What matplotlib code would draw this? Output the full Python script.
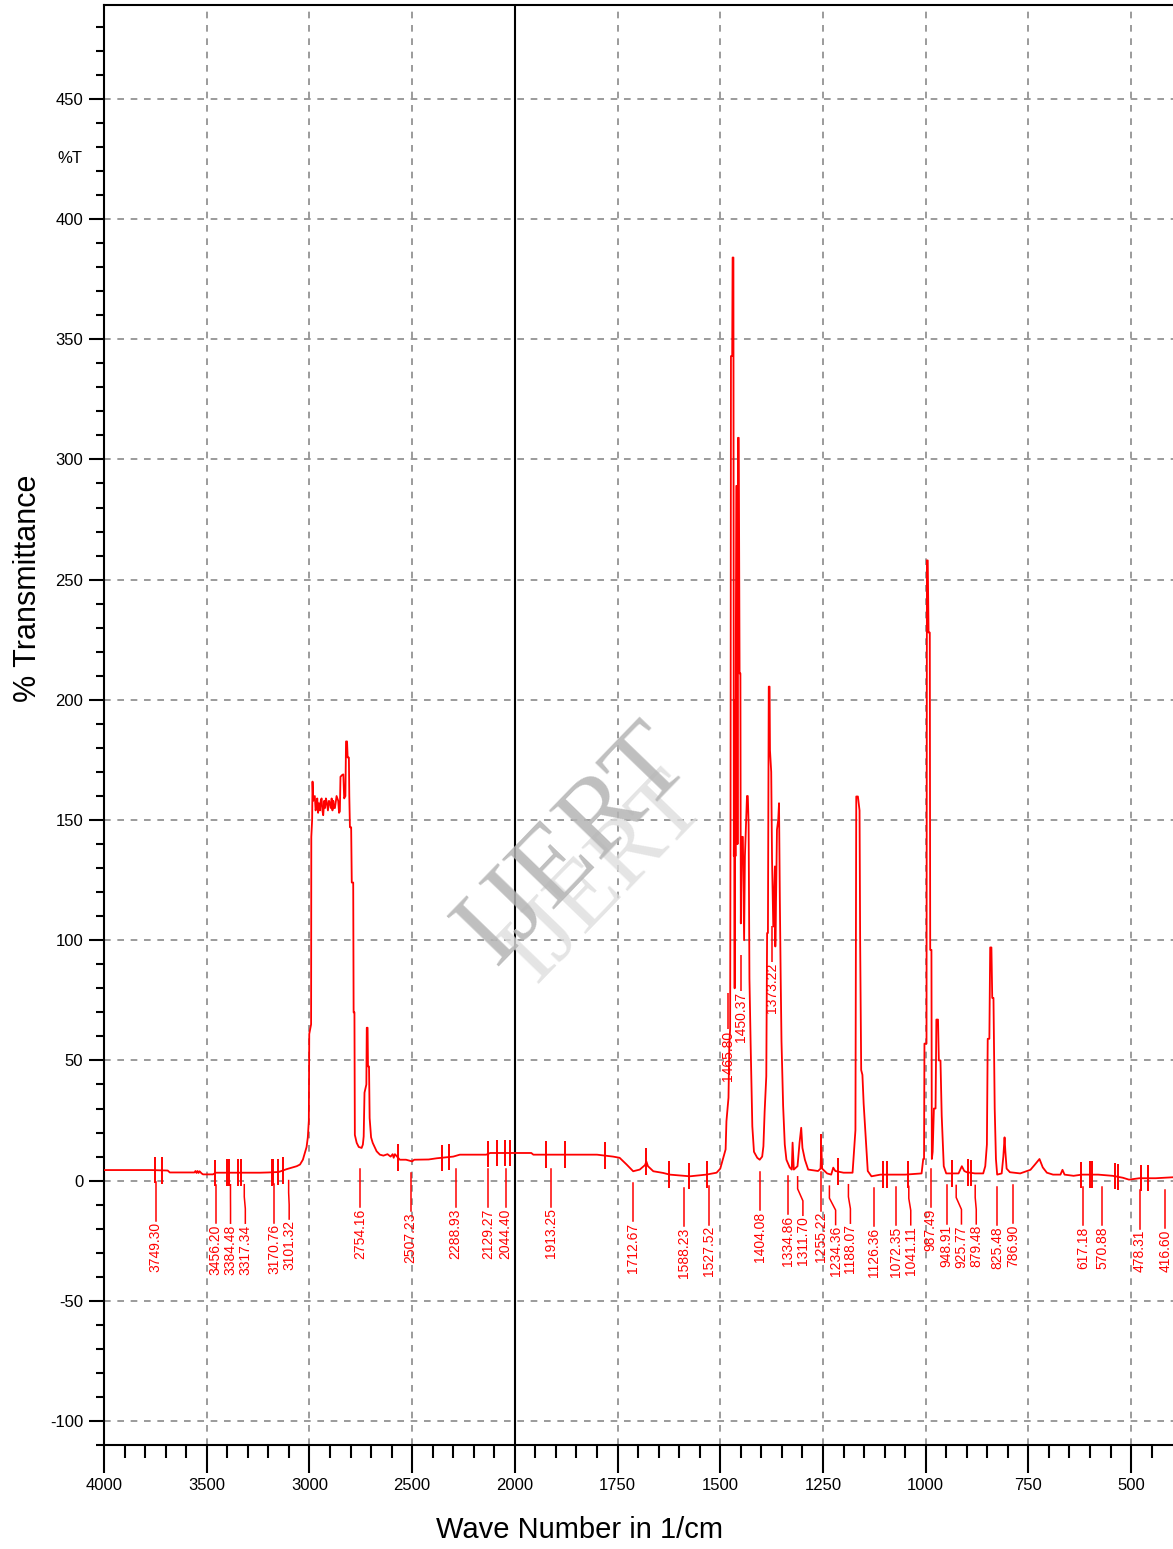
import matplotlib
matplotlib.use("Agg")
import matplotlib.pyplot as plt
import numpy as np

plt.rcParams["font.family"] = ["Liberation Sans", "DejaVu Sans"]

# ---------------------------------------------------------------------------
# Spectrum (wave number, % transmittance)
# ---------------------------------------------------------------------------
wave_number = [
    4000, 3770, 3690, 3680, 3560, 3555, 3550, 3545, 3540, 3535, 3525, 3518,
    3470, 3455, 3240, 3200, 3150, 3110, 3062, 3046, 3032, 3014, 3008, 3003,
    3001, 2992, 2991, 2987, 2985, 2982, 2974, 2970, 2966, 2962, 2958, 2954,
    2949, 2945, 2941, 2937, 2933, 2928, 2924, 2920, 2916, 2910, 2905, 2900,
    2896, 2892, 2888, 2884, 2880, 2876, 2868, 2860, 2856, 2852, 2849, 2840,
    2835, 2831, 2825, 2822, 2817, 2814, 2808, 2806, 2803, 2797, 2794, 2787,
    2785, 2781, 2779, 2770, 2760, 2746, 2740, 2736, 2732, 2723, 2721, 2717,
    2715, 2710, 2707, 2700, 2692, 2673, 2657, 2640, 2620, 2605, 2595, 2590,
    2584, 2560, 2530, 2500, 2490, 2420, 2380, 2300, 2268, 2140, 2120, 1960,
    1955, 1800, 1761, 1745, 1728, 1712, 1696, 1683, 1680, 1676, 1663, 1639,
    1623, 1574, 1534, 1509, 1500, 1492, 1487, 1485, 1480, 1478, 1476, 1475,
    1474, 1471, 1470, 1468, 1467, 1466, 1465, 1464, 1463, 1462, 1461, 1459,
    1458, 1457, 1455, 1453, 1451, 1450, 1448, 1445, 1442, 1440, 1437, 1435,
    1433, 1431, 1429, 1426, 1422, 1418, 1410, 1404, 1398, 1395, 1392, 1388,
    1386, 1384, 1382, 1380, 1379, 1376, 1374, 1371, 1369, 1367, 1366, 1364,
    1362, 1359, 1357, 1355, 1353, 1351, 1347, 1343, 1339, 1331, 1326, 1324,
    1321, 1312, 1307, 1303, 1300, 1294, 1286, 1262, 1256, 1254, 1252, 1240,
    1230, 1225, 1220, 1200, 1178, 1175, 1171, 1169, 1165, 1161, 1159.5, 1157,
    1154, 1151, 1146, 1141, 1132, 1110, 1050, 1010, 1006, 1004, 1003, 998,
    997, 995, 993, 990, 989, 986, 985, 983, 980, 976, 974, 970,
    968, 964, 961, 956, 950, 920, 912, 906, 900, 880, 860, 855,
    851, 849, 845, 843, 840, 838, 835, 832, 829, 826, 815, 811,
    808, 806, 803, 795, 770, 745, 735, 723, 715, 705, 690, 672,
    667, 662, 640, 620, 580, 545, 520, 505, 480, 440, 420, 398,
]
transmittance = [
    4.4, 4.4, 4.2, 3.4, 3.4, 4.0, 3.2, 4.0, 3.2, 3.9, 3.0, 2.6,
    2.6, 3.3, 3.3, 3.4, 3.6, 4.8, 6.0, 6.7, 8.7, 14, 18, 25,
    61, 65, 143, 150, 166, 158, 160, 154, 156, 159, 153, 157,
    154, 158, 159, 154, 152, 158, 155, 159, 157.7, 154, 158, 157,
    155, 159, 154, 158, 155, 155, 160, 158, 153, 153.6, 168, 168.8,
    169, 159, 160, 182.7, 182.7, 176, 176, 160, 147, 147, 124, 124,
    70, 70, 19, 15.7, 14, 13.6, 15, 18.4, 36.6, 40, 63.6, 63.6,
    47.5, 47.5, 26, 18, 15.7, 12.2, 10.8, 10.4, 11, 10, 11, 9.5,
    11, 8.7, 8.7, 8, 8.7, 8.8, 9.3, 10, 10.8, 10.8, 11.5, 11.5,
    10.8, 10.8, 10, 9.5, 6.7, 3.9, 4.6, 6.5, 8, 6, 3.9, 3.2,
    2.5, 1.8, 2.5, 3.3, 5, 10, 13, 24.7, 34.5, 57, 63, 153,
    343, 343, 384, 384, 135, 160, 80, 200, 135, 230, 289, 289,
    140, 309, 309, 211, 211, 107, 143, 143, 100, 135, 150, 160,
    160, 148, 84, 56, 22.6, 12, 9.5, 8.7, 10, 14.3, 28.8, 43.4,
    103, 103, 205.5, 205.5, 179, 170, 133.5, 105.7, 118, 130.7, 97.4, 120,
    146, 150, 157, 117, 85, 58, 31, 15, 8.7, 5.5, 4.6, 15.8,
    4.6, 6, 15.8, 22, 13.6, 8.7, 4.6, 4, 5, 14, 5, 3,
    2.5, 5.4, 4, 3.3, 3.3, 10.8, 21, 159.8, 159.8, 154, 99, 46,
    44, 32, 18, 4, 1.8, 2.5, 2.5, 3, 9, 9, 57, 57,
    258, 258, 228, 228, 96, 96, 9, 12, 30, 30, 67, 67,
    50, 50, 27, 6, 3, 3, 6, 4, 3.5, 3, 3, 6,
    15, 59, 59, 97, 97, 76, 76, 30, 9, 2.5, 3, 10,
    18, 12, 5, 3.5, 3, 4.5, 6.5, 9, 5.5, 3.3, 2.5, 2.5,
    4.5, 2.5, 2.0, 2.5, 2.5, 2.0, 1.2, 0.4, 1.0, 1.0, 1.2, 1.4,
]

# short peak-marker ticks crossing the trace
marker_wn = [
    3752, 3719, 3460, 3400, 3390, 3346, 3335, 3184, 3176, 3152, 3130, 2570,
    2357, 2320, 2130, 2089, 2049, 2024, 1923, 1878, 1781, 1680, 1624, 1575,
    1532, 1254, 1213, 1103, 1093, 1043, 937, 897, 889, 622, 600, 595,
    540, 532, 476, 460,
]

# peak labels hanging below the trace
peak_wn = [
    3749.30, 3456.20, 3384.48, 3317.34, 3170.76, 3101.32, 2754.16, 2507.23,
    2288.93, 2129.27, 2044.40, 1913.25, 1712.67, 1588.23, 1527.52, 1404.08,
    1334.86, 1311.70, 1255.22, 1234.36, 1188.07, 1126.36, 1072.35, 1041.11,
    987.49, 948.91, 925.77, 879.48, 825.48, 786.90, 617.18, 570.88,
    478.31, 416.60,
]
peak_text = [f"{w:.2f}" for w in peak_wn]

# peak labels placed inside the strong band group
upper_wn = [1465.80, 1450.37, 1373.22]
upper_text = [f"{w:.2f}" for w in upper_wn]
upper_top = [78, 94, 106]

x_major = [4000, 3500, 3000, 2500, 2000, 1750, 1500, 1250, 1000, 750, 500]
y_major = list(range(-100, 451, 50))

RED = "#ff0000"
GRID = "#8a8a8a"
LABEL_GAP = 36      # minimum spacing of hanging labels, in axis units
UPPER_GAP = 30      # same for the labels inside the band group


# wave-number axis: 2x expanded below 2000 1/cm
def fwd(w):
    w = np.asarray(w, dtype=float)
    return np.where(w > 2000, 2000 + (w - 2000) / 2, w)


def inv(u):
    u = np.asarray(u, dtype=float)
    return np.where(u > 2000, 2000 + (u - 2000) * 2, u)


fig = plt.figure(figsize=(11.73, 15.49), dpi=100)
ax = fig.add_axes([0.0887, 0.0671, 0.9113, 0.9296])
ax.set_xscale("function", functions=(fwd, inv))
ax.set_xlim(4000, 398)
ax.set_ylim(-110, 489)

x_minor = [w for w in range(3900, 2000, -100) if w not in x_major]
x_minor += [w for w in range(1950, 400, -50) if w not in x_major]
y_minor = [v for v in range(-110, 490, 10) if v % 50]

ax.set_xticks(x_major, [str(w) for w in x_major])
ax.set_xticks(x_minor, minor=True)
ax.set_yticks(y_major, [str(v) for v in y_major])
ax.set_yticks(y_minor, minor=True)

ax.tick_params(axis="x", which="major", direction="out", length=20, width=1.5,
               labelsize=12, pad=4)
ax.tick_params(axis="x", which="minor", direction="out", length=9, width=1.5)
ax.tick_params(axis="y", which="major", direction="out", length=11, width=1.5,
               labelsize=12, pad=4)
ax.tick_params(axis="y", which="minor", direction="out", length=6, width=1.5)

for side in ("left", "bottom", "top"):
    ax.spines[side].set_linewidth(1.5)
ax.spines["right"].set_visible(False)

ax.grid(True, which="major", color=GRID, linestyle=(0, (4, 4)), linewidth=1.2)
ax.set_axisbelow(True)
ax.axvline(2000, color="black", linewidth=1.5, zorder=2)

ax.text(-0.032, 425, "%T", transform=ax.get_yaxis_transform(),
        ha="center", va="center", fontsize=12)

# watermark
fig.text(0.49, 0.454, "IJERT", rotation=46, fontsize=80, color="#b4b4b4",
         family="Liberation Serif", ha="center", va="center", alpha=0.85)
fig.text(0.515, 0.433, "IJERT", rotation=46, fontsize=70, color="#dedede",
         family="Liberation Serif", ha="center", va="center", alpha=0.8,
         zorder=0)

# trace
wn = np.array(wave_number, dtype=float)
tr = np.array(transmittance, dtype=float)
ax.plot(wn, tr, color=RED, linewidth=1.3, zorder=3)

# marker ticks
mk = np.interp(marker_wn, wn[::-1], tr[::-1])
ax.vlines(marker_wn, mk - 5.5, mk + 5.5, color=RED, linewidth=1.4, zorder=3)

# hanging labels: spread crowded ones sideways with bent leaders
base = np.minimum(np.interp(peak_wn, wn[::-1], tr[::-1]), 10) - 5
pos_u = fwd(peak_wn).astype(float)          # decreasing along the axis
for i in range(1, len(pos_u)):
    pos_u[i] = min(pos_u[i], pos_u[i - 1] - LABEL_GAP)
pos_wn = inv(pos_u)
for w, pw, b, t in zip(peak_wn, pos_wn, base, peak_text):
    ax.plot([w, w, pw, pw], [b, b - 5, b - 10, b - 16],
            color=RED, linewidth=1.1, zorder=3)
    ax.text(pw, b - 16.5, t, rotation=90, ha="center", va="top",
            color=RED, fontsize=10, zorder=4)

# labels inside the band group, pushed apart towards higher wave numbers
up_u = fwd(upper_wn).astype(float)
for i in range(len(up_u) - 2, -1, -1):
    up_u[i] = max(up_u[i], up_u[i + 1] + UPPER_GAP)
up_pos = inv(up_u)
for pw, top, t in zip(up_pos, upper_top, upper_text):
    ax.vlines(pw, top - 15, top, color=RED, linewidth=1.1, zorder=3)
    ax.text(pw, top - 15.5, t, rotation=90, ha="center", va="top",
            color=RED, fontsize=10, zorder=4)

fig.text(28 / 1173, 1 - 588 / 1549, "% Transmittance", rotation=90,
         ha="center", va="center", fontsize=22)
fig.text(580 / 1173, 1 - 1530 / 1549, "Wave Number in 1/cm",
         ha="center", va="center", fontsize=21)

fig.savefig("out.png", dpi=100)
